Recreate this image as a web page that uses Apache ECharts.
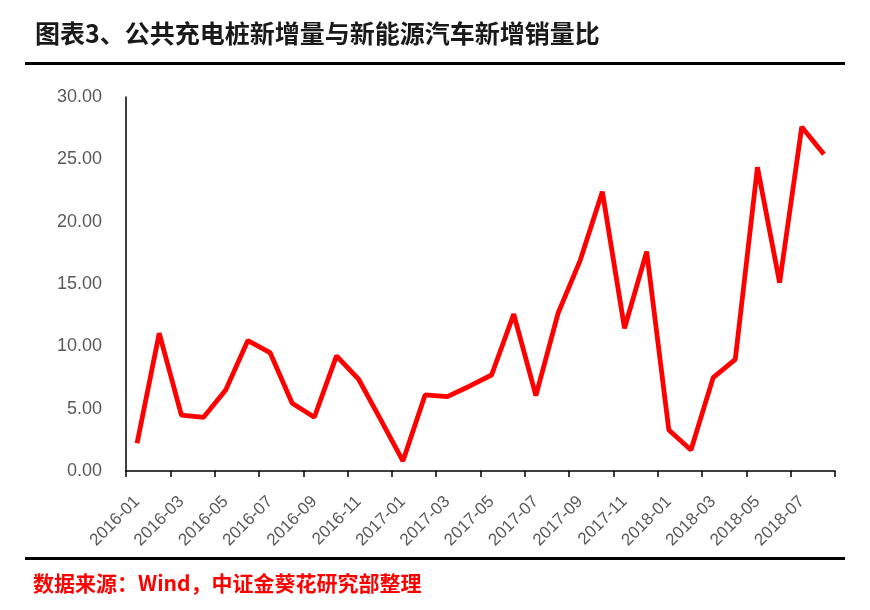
<!DOCTYPE html>
<html>
<head>
<meta charset="utf-8">
<script src="https://cdn.jsdelivr.net/npm/echarts@6/dist/echarts.min.js"></script>
<style>html,body{margin:0;padding:0;background:#fff;}#c{width:870px;height:610px;}</style>
</head>
<body>
<div id="c"></div>
<script>
const titleText = '图表3、公共充电桩新增量与新能源汽车新增销量比';
const sourceText = '数据来源：Wind，中证金葵花研究部整理';
const months = ['2016-01','2016-02','2016-03','2016-04','2016-05','2016-06','2016-07','2016-08','2016-09','2016-10','2016-11','2016-12',
  '2017-01','2017-02','2017-03','2017-04','2017-05','2017-06','2017-07','2017-08','2017-09','2017-10','2017-11','2017-12',
  '2018-01','2018-02','2018-03','2018-04','2018-05','2018-06','2018-07','2018-08'];
const ratio = [2.22, 11.05, 4.49, 4.31, 6.5, 10.46, 9.5, 5.43, 4.31, 9.23, 7.36, 4.1,
  0.8, 6.1, 5.96, 6.8, 7.7, 12.58, 6.05, 12.65, 16.9, 22.4, 11.45, 17.6,
  3.29, 1.69, 7.49, 8.96, 24.37, 15.1, 27.6, 25.4];
const yMin = 0, yMax = 30, yStep = 5;

const chart = echarts.init(document.getElementById('c'), null, {renderer: 'canvas'});
chart.setOption({
  backgroundColor: '#ffffff',
  animation: false,
  grid: {left: 126, right: 35, top: 97, bottom: 139},
  xAxis: {
    type: 'category',
    data: months,
    boundaryGap: true,
    axisLine: {lineStyle: {color: '#000', width: 1.5}},
    axisTick: {show: true, interval: 1, length: 6, lineStyle: {color: '#000', width: 1.5}},
    axisLabel: {interval: 1, rotate: 45, color: '#595959', fontSize: 17, fontFamily: 'Liberation Sans', margin: 28}
  },
  yAxis: {
    type: 'value',
    min: yMin, max: yMax, interval: yStep,
    axisLine: {show: true, lineStyle: {color: '#000', width: 1.5}},
    axisTick: {show: false},
    splitLine: {show: false},
    axisLabel: {color: '#595959', fontSize: 18, fontFamily: 'Liberation Sans', margin: 24,
      formatter: v => v.toFixed(2)}
  },
  series: [{
    type: 'line',
    data: ratio,
    symbol: 'none',
    lineStyle: {color: '#ff0000', width: 4.8},
    itemStyle: {color: '#ff0000'}
  }],
  graphic: [
    {type: 'text', left: 35, top: 21, style: {text: titleText, font: 'bold 25px "Noto Sans CJK SC"', fill: '#1a1a1a'}},
    {type: 'rect', shape: {x: 25, y: 62, width: 820, height: 3}, style: {fill: '#000'}},
    {type: 'rect', shape: {x: 25, y: 557, width: 820, height: 3}, style: {fill: '#000'}},
    {type: 'text', left: 33, top: 573, style: {text: sourceText, font: 'bold 21px "Noto Sans CJK SC"', fill: '#ff0000'}}
  ]
});
</script>
</body>
</html>
